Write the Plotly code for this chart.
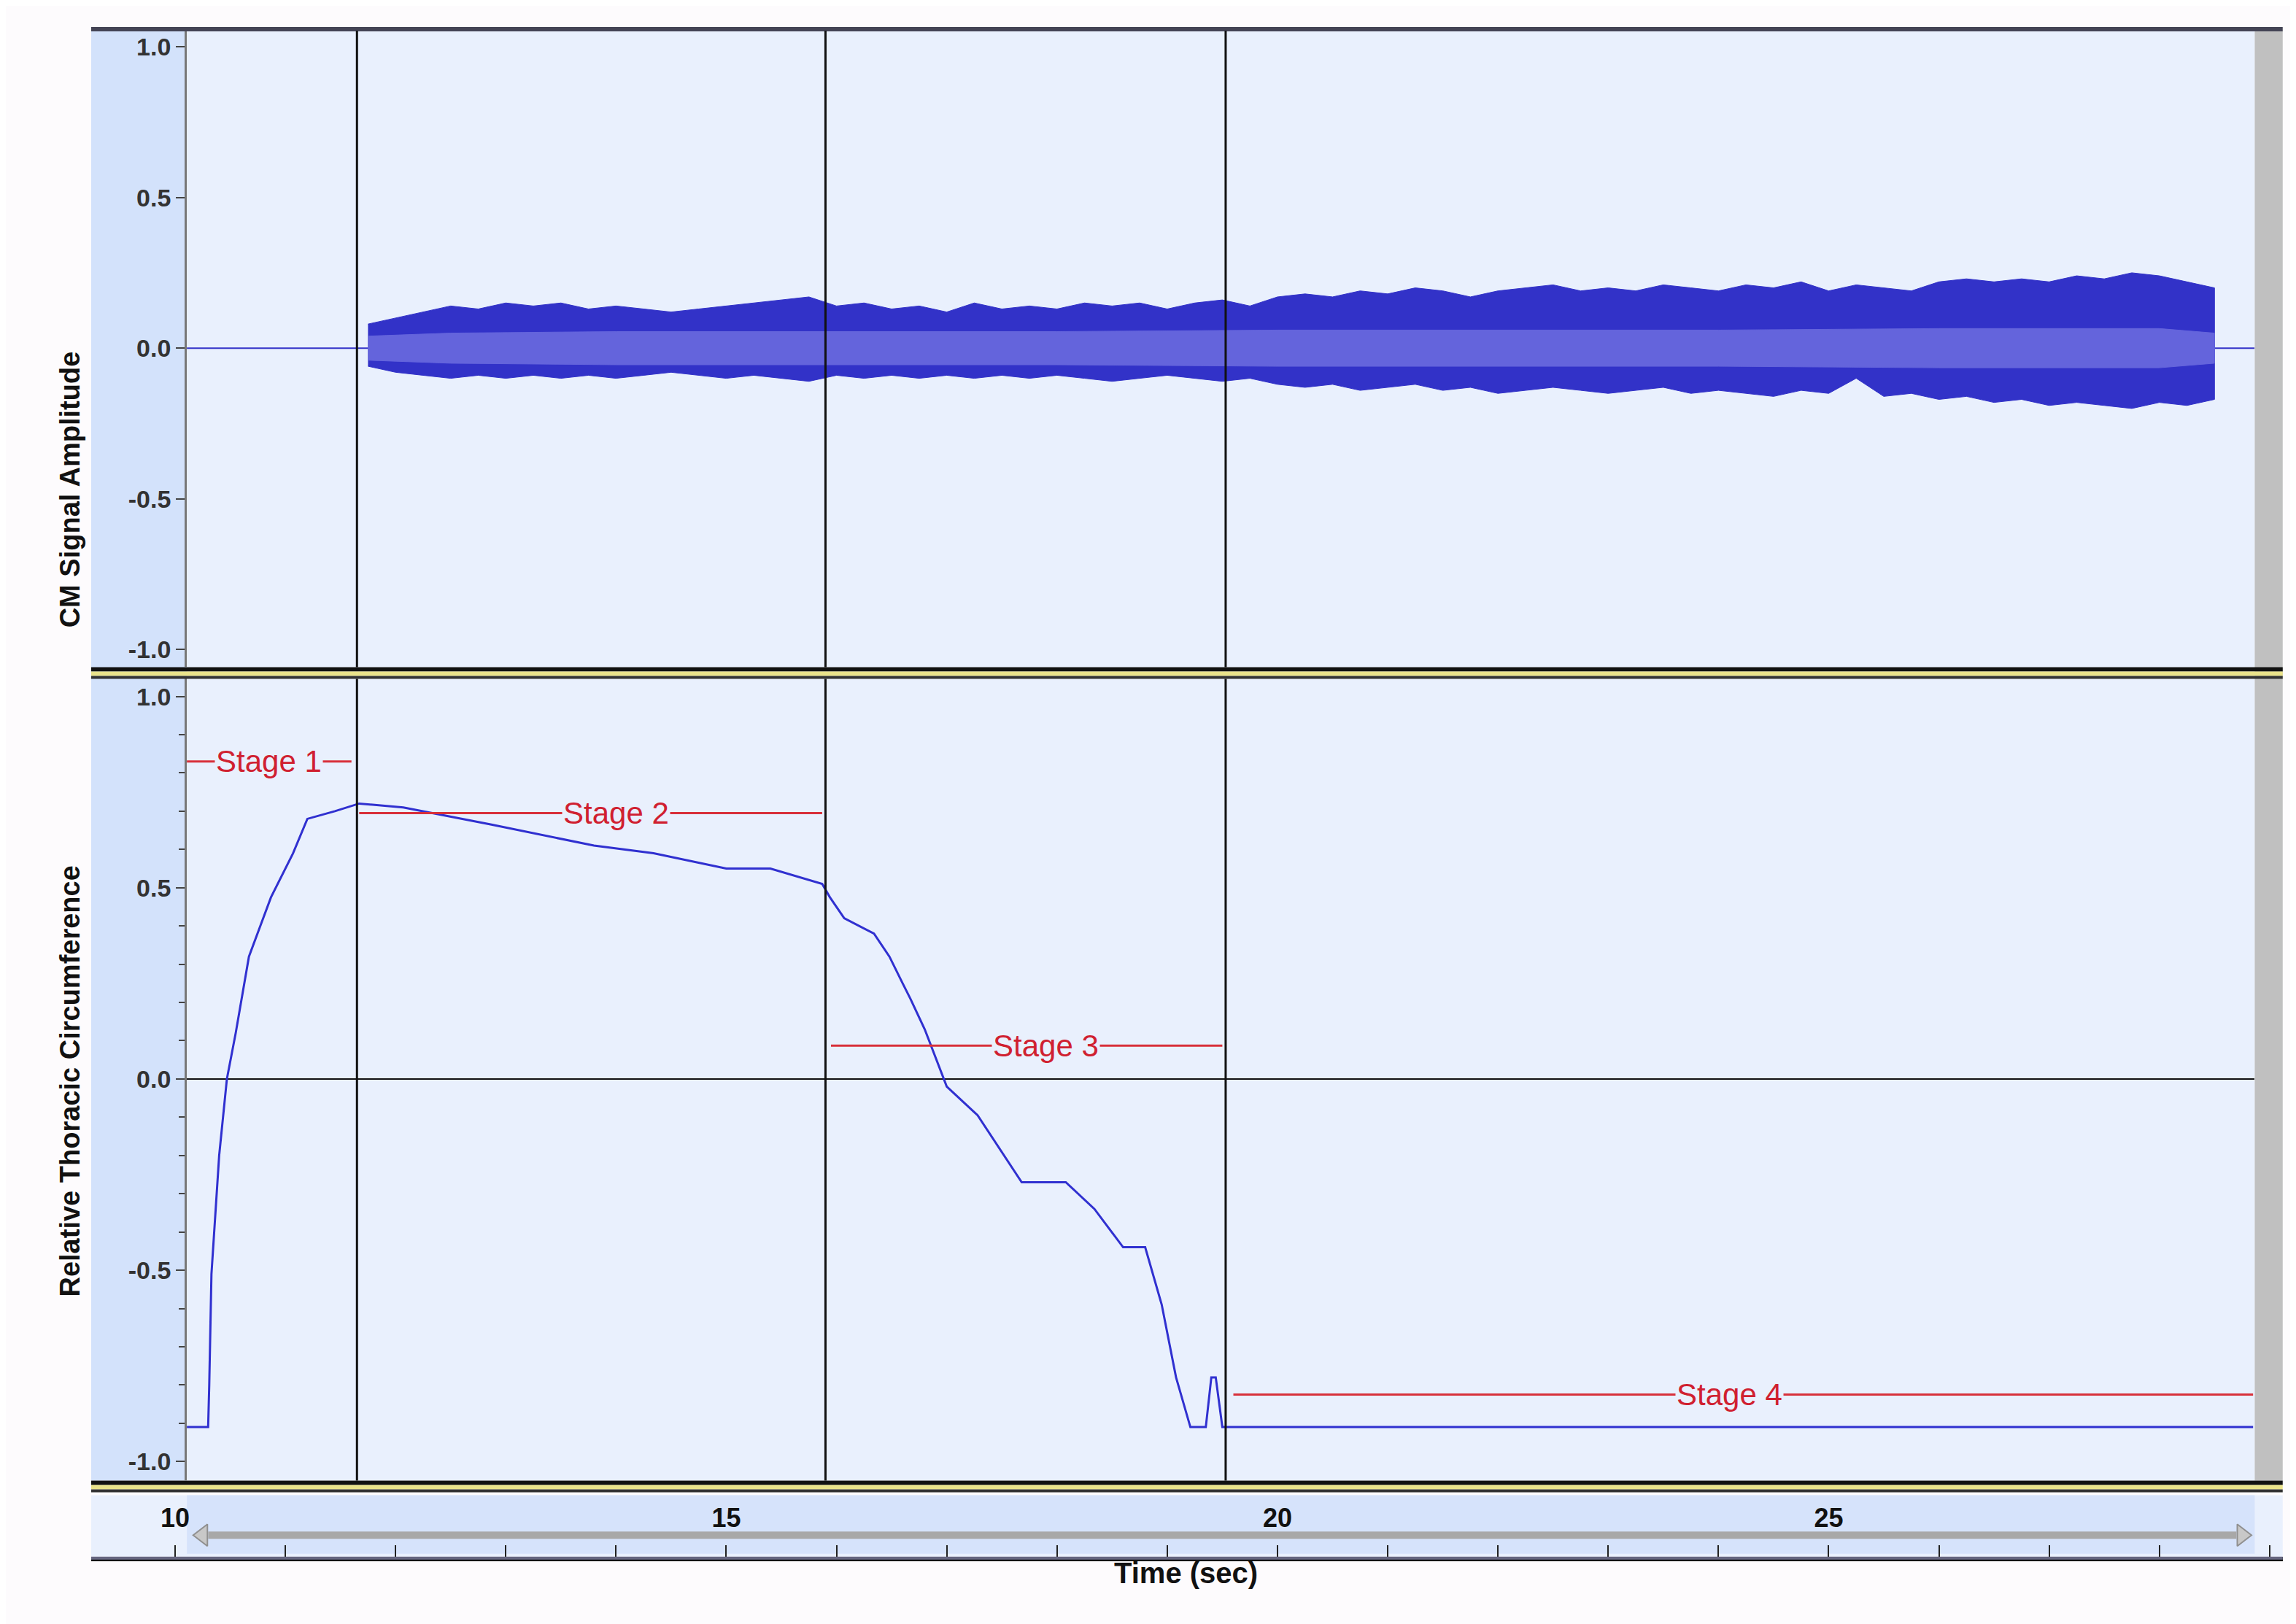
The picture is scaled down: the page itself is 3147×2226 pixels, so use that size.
import numpy as np
import plotly.graph_objects as go

W, H = 1560.0, 1110.0
def px(x): return x / W
def py(y): return 1 - y / H

# ---------- data ----------
env_t = list(np.round(np.arange(11.75, 28.51, 0.25), 2))
env_up = [0.08,0.10,0.12,0.14,0.13,0.15,0.14,0.15,0.13,0.14,0.13,0.12,0.13,0.14,0.15,0.16,0.17,0.14,0.15,0.13,
          0.14,0.12,0.15,0.13,0.14,0.13,0.15,0.14,0.15,0.13,0.15,0.16,0.14,0.17,0.18,0.17,0.19,0.18,0.20,0.19,
          0.17,0.19,0.20,0.21,0.19,0.20,0.19,0.21,0.20,0.19,0.21,0.20,0.22,0.19,0.21,0.20,0.19,0.22,0.23,0.22,
          0.23,0.22,0.24,0.23,0.25,0.24,0.22,0.20]
env_lo = [-0.06,-0.08,-0.09,-0.10,-0.09,-0.10,-0.09,-0.10,-0.09,-0.10,-0.09,-0.08,-0.09,-0.10,-0.09,-0.10,-0.11,-0.09,-0.10,-0.09,
          -0.10,-0.09,-0.10,-0.09,-0.10,-0.09,-0.10,-0.11,-0.10,-0.09,-0.10,-0.11,-0.10,-0.12,-0.13,-0.12,-0.14,-0.13,-0.12,-0.14,
          -0.13,-0.15,-0.14,-0.13,-0.14,-0.15,-0.14,-0.13,-0.15,-0.14,-0.15,-0.16,-0.14,-0.15,-0.10,-0.16,-0.15,-0.17,-0.16,-0.18,
          -0.17,-0.19,-0.18,-0.19,-0.20,-0.18,-0.19,-0.17]
inner_t = [11.75, 12.5, 14, 16, 18, 20, 22, 24, 26, 28, 28.5]
inner_up = [0.04, 0.05, 0.055, 0.055, 0.055, 0.06, 0.06, 0.06, 0.065, 0.065, 0.05]
inner_lo = [-0.04, -0.05, -0.055, -0.055, -0.055, -0.06, -0.06, -0.06, -0.065, -0.065, -0.05]

circ_t = [10.1,10.3,10.31,10.33,10.4,10.47,10.55,10.67,10.87,11.07,11.2,11.45,11.67,12.07,12.87,13.8,14.34,15.0,15.4,15.87,
          15.94,16.07,16.34,16.48,16.6,16.67,16.8,17.0,17.28,17.54,17.68,18.08,18.34,18.6,18.8,18.95,19.08,19.21,19.35,19.4,
          19.44,19.5,19.6,28.85]
circ_v = [-0.91,-0.91,-0.8,-0.51,-0.2,0.0,0.12,0.32,0.475,0.59,0.68,0.70,0.72,0.71,0.665,0.61,0.59,0.55,0.55,0.51,
          0.475,0.42,0.38,0.32,0.25,0.21,0.13,-0.02,-0.095,-0.21,-0.27,-0.27,-0.34,-0.44,-0.44,-0.59,-0.78,-0.91,-0.91,-0.78,
          -0.78,-0.91,-0.91,-0.91]

stage_names = ["Stage 1", "Stage 2", "Stage 3", "Stage 4"]
stage_x0 = [10.1, 11.67, 15.95, 19.6]
stage_x1 = [11.6, 15.87, 19.5, 28.85]
stage_y = [0.83, 0.695, 0.087, -0.825]
stage_text_x = [10.85, 14.0, 17.9, 24.1]
boundaries = [11.65, 15.9, 19.53]
time_ticks = list(range(10, 30))
time_labels = ["10", "15", "20", "25"]

# ---------- figure ----------
XR = [10.107, 28.865]
fig = go.Figure()
n = min(len(env_t), len(env_up), len(env_lo))
et, eu, el = env_t[:n], env_up[:n], env_lo[:n]
fig.add_trace(go.Scatter(x=[10.1, 11.75], y=[0, 0], mode="lines", line=dict(color="#3333c8", width=2),
                         xaxis="x", yaxis="y", hoverinfo="skip"))
fig.add_trace(go.Scatter(x=[28.5, 28.865], y=[0, 0], mode="lines", line=dict(color="#3333c8", width=2),
                         xaxis="x", yaxis="y", hoverinfo="skip"))
fig.add_trace(go.Scatter(x=et + et[::-1], y=eu + el[::-1], fill="toself", fillcolor="#3232c8",
                         line=dict(color="#3232c8", width=1), mode="lines", xaxis="x", yaxis="y"))
fig.add_trace(go.Scatter(x=inner_t + inner_t[::-1], y=inner_up + inner_lo[::-1], fill="toself",
                         fillcolor="#6464dc", line=dict(color="#6464dc", width=1), mode="lines", xaxis="x", yaxis="y"))
fig.add_trace(go.Scatter(x=circ_t, y=circ_v, mode="lines", line=dict(color="#3030d0", width=3),
                         xaxis="x2", yaxis="y2"))
fig.add_trace(go.Scatter(x=[10.25, 28.75], y=[-0.3, -0.3], mode="markers",
                         marker=dict(symbol=["triangle-left", "triangle-right"], size=26, color="#c8c8c8",
                                     line=dict(color="#909090", width=2)),
                         xaxis="x3", yaxis="y3"))

bg = "#e9f0fd"
tf = dict(size=34, family="Liberation Sans", color="#333", weight="bold")
fig.update_layout(
    width=3147, height=2226, margin=dict(l=0, r=0, t=0, b=0), showlegend=False,
    paper_bgcolor="#fdfbfd", plot_bgcolor=bg,
    font=dict(family="Liberation Sans, Arial", color="#222"),
    xaxis=dict(domain=[px(123), px(1528)], range=XR, anchor="y", showticklabels=False, showgrid=False,
               zeroline=False, ticks=""),
    yaxis=dict(domain=[py(452), py(17)], range=[-1.058, 1.053], tickvals=[-1, -0.5, 0, 0.5, 1],
               ticktext=["-1.0", "-0.5", "0.0", "0.5", "1.0"], showgrid=False, zeroline=False,
               ticks="outside", ticklen=12, tickwidth=2, tickcolor="#444", tickfont=tf,
               showline=True, linecolor="#777", linewidth=3, anchor="x"),
    xaxis2=dict(domain=[px(123), px(1528)], range=XR, anchor="y2", showticklabels=False, showgrid=False,
                zeroline=False),
    yaxis2=dict(domain=[py(1008), py(460)], range=[-1.05, 1.046], tickvals=[-1, -0.5, 0, 0.5, 1],
                ticktext=["-1.0", "-0.5", "0.0", "0.5", "1.0"], showgrid=False, zeroline=True,
                zerolinecolor="#111", zerolinewidth=2,
                ticks="outside", ticklen=12, tickwidth=2, tickcolor="#444",
                minor=dict(dtick=0.1, ticks="outside", ticklen=8, tickcolor="#444"), tickfont=tf,
                showline=True, linecolor="#777", linewidth=3, anchor="x2"),
    xaxis3=dict(domain=[px(58), px(1547)], range=[9.239, 29.119], anchor="y3",
                tickvals=time_ticks, ticktext=[str(t) if str(t) in time_labels else "" for t in time_ticks],
                ticks="inside", ticklen=16, tickwidth=2, tickcolor="#222", ticklabelposition="inside",
                ticklabelstandoff=22,
                tickfont=dict(size=36, family="Liberation Sans", color="#111", weight="bold"),
                showgrid=False, zeroline=False, showline=True, linecolor="#111", linewidth=6),
    yaxis3=dict(domain=[py(1060), py(1018)], range=[-1, 1], visible=False),
)

shapes = []
shapes.append(dict(type="rect", xref="paper", yref="paper", x0=px(58), x1=px(123), y0=py(1008), y1=py(17),
                   fillcolor="#d3e2fb", line_width=0, layer="below"))
shapes.append(dict(type="rect", xref="paper", yref="paper", x0=px(1528), x1=px(1547), y0=py(1008), y1=py(17),
                   fillcolor="#c0c0c0", line_width=0, layer="above"))
shapes.append(dict(type="rect", xref="paper", yref="paper", x0=px(123), x1=px(1528), y0=py(1058), y1=py(1018),
                   fillcolor="#d6e3fb", line_width=0, layer="below"))
shapes.append(dict(type="line", xref="paper", yref="paper", x0=px(58), x1=px(1547), y0=py(16), y1=py(16),
                   line=dict(color="#444455", width=6)))
for ytop in [452, 1008]:
    shapes.append(dict(type="rect", xref="paper", yref="paper", x0=px(58), x1=px(1547), y0=py(ytop + 3), y1=py(ytop),
                       fillcolor="#111", line_width=0))
    shapes.append(dict(type="rect", xref="paper", yref="paper", x0=px(58), x1=px(1547), y0=py(ytop + 6), y1=py(ytop + 3),
                       fillcolor="#eae38a", line_width=0))
    shapes.append(dict(type="rect", xref="paper", yref="paper", x0=px(58), x1=px(1547), y0=py(ytop + 8), y1=py(ytop + 6),
                       fillcolor="#333", line_width=0))
shapes.append(dict(type="rect", xref="paper", yref="paper", x0=px(58), x1=px(1547), y0=py(1062), y1=py(1060),
                   fillcolor="#666680", line_width=0))
for b in boundaries:
    for yr in ["y", "y2"]:
        shapes.append(dict(type="line", xref="x", yref=f"{yr} domain", x0=b, x1=b, y0=0, y1=1,
                           line=dict(color="#111", width=3)))
shapes.append(dict(type="line", xref="x3", yref="y3", x0=10.3, x1=28.7, y0=-0.3, y1=-0.3,
                   line=dict(color="#a8a8a8", width=10)))
for x0, x1, y in zip(stage_x0, stage_x1, stage_y):
    shapes.append(dict(type="line", xref="x2", yref="y2", x0=x0, x1=x1, y0=y, y1=y,
                       line=dict(color="#d8303a", width=3)))
fig.update_layout(shapes=shapes)

anns = []
for name, tx, y in zip(stage_names, stage_text_x, stage_y):
    anns.append(dict(text=name, x=tx, y=y, xref="x2", yref="y2", showarrow=False, bgcolor=bg,
                     font=dict(size=42, color="#d02030", family="Liberation Sans")))
anns.append(dict(text="<b>CM Signal Amplitude</b>", x=px(32), y=py(235), xref="paper", yref="paper",
                 textangle=-90, showarrow=False, font=dict(size=38, color="#111")))
anns.append(dict(text="<b>Relative Thoracic Circumference</b>", x=px(32), y=py(735), xref="paper", yref="paper",
                 textangle=-90, showarrow=False, font=dict(size=38, color="#111")))
anns.append(dict(text="<b>Time (sec)</b>", x=px(802), y=py(1083), xref="paper", yref="paper",
                 showarrow=False, font=dict(size=40, color="#111")))
fig.update_layout(annotations=anns)
fig.write_html("out.html")
